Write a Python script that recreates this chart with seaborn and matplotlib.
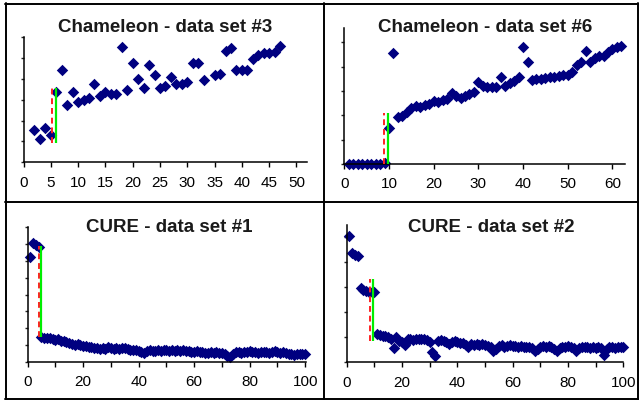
import matplotlib.pyplot as plt
from matplotlib.lines import Line2D
from matplotlib.ticker import MultipleLocator
import seaborn as sns

sns.set_style("ticks")
plt.rcParams['font.family'] = ['Liberation Sans', 'DejaVu Sans']

W, H = 639, 402

# --- data ---
cham3_x = [2, 3, 4, 5, 6, 7, 8, 9, 10, 11, 12, 13, 14, 15, 16, 17, 18, 19, 20, 21, 22,
           23, 24, 25, 26, 27, 28, 29, 30, 31, 32, 33, 35, 36, 37, 38, 39, 40, 41, 42,
           43, 44, 45, 46, 47]
cham3_y = [1.55, 1.12, 1.65, 1.31, 3.37, 4.44, 2.75, 3.38, 2.88, 2.98, 3.08, 3.78, 3.20,
           3.36, 3.30, 3.28, 5.55, 3.46, 4.76, 4.02, 3.55, 4.66, 4.18, 3.55, 3.68, 4.11,
           3.76, 3.76, 3.85, 4.76, 4.76, 3.96, 4.20, 4.25, 5.36, 5.48, 4.44, 4.44, 4.44,
           4.97, 5.13, 5.24, 5.24, 5.29, 5.56]
cham3_red, cham3_green = 5.25, 5.9
cham3_span = (0.95, 3.56)

cham6_x = list(range(1, 63))
cham6_y = [0.02, 0.02, 0.02, 0.02, 0.02, 0.02, 0.02, 0.02, 0.05, 1.48,
           4.55, 1.92, 1.97, 2.15, 2.29, 2.37, 2.33, 2.43, 2.47, 2.58,
           2.57, 2.63, 2.66, 2.92, 2.78, 2.72, 2.81, 2.88, 2.95, 3.39,
           3.19, 3.15, 3.15, 3.17, 3.59, 3.22, 3.33, 3.43, 3.57, 4.83,
           4.21, 3.46, 3.50, 3.50, 3.53, 3.57, 3.59, 3.62, 3.64, 3.66,
           3.80, 4.07, 4.18, 4.66, 4.18, 4.35, 4.43, 4.46, 4.62, 4.73,
           4.80, 4.84]
cham6_red, cham6_green = 8.95, 9.85
cham6_span = (0.0, 2.08)

cure1_x = list(range(1, 101))
cure1_y = [6.20, 7.05, 6.95, 6.80,
           1.47, 1.45, 1.42, 1.40, 1.36, 1.32, 1.34, 1.27, 1.22, 1.18,
           1.13, 1.08, 1.02, 1.05, 0.99, 0.97, 0.92, 0.88, 0.90, 0.84,
           0.81, 0.78, 0.84, 0.80, 0.86, 0.83, 0.78, 0.84, 0.80, 0.85,
           0.81, 0.78, 0.74, 0.70, 0.72, 0.67, 0.60, 0.55, 0.63, 0.70,
           0.67, 0.64, 0.72, 0.68, 0.73, 0.71, 0.66, 0.72, 0.67, 0.70,
           0.67, 0.70, 0.64, 0.68, 0.62, 0.61, 0.64, 0.58, 0.62, 0.56,
           0.53, 0.58, 0.55, 0.60, 0.54, 0.51, 0.45, 0.36, 0.28, 0.47,
           0.57, 0.60, 0.55, 0.62, 0.58, 0.63, 0.57, 0.60, 0.55, 0.61,
           0.57, 0.62, 0.55, 0.60, 0.63, 0.61, 0.56, 0.60, 0.55, 0.50,
           0.47, 0.42, 0.50, 0.45, 0.49, 0.47]
cure1_red, cure1_green = 4.0, 5.0
cure1_span = (1.5, 6.88)

cure2_x = list(range(1, 101))
cure2_y = [5.07, 4.36, 4.30, 4.25, 2.97, 2.88, 2.86, 2.83, 2.82, 2.80,
           1.13, 1.10, 1.07, 1.05, 1.03, 0.93, 0.57, 1.00, 0.85, 0.80,
           0.69, 0.93, 0.93, 0.90, 0.93, 0.95, 0.93, 0.95, 0.90, 0.80,
           0.40, 0.27, 0.87, 0.88, 0.87, 0.80, 0.73, 0.82, 0.87, 0.80,
           0.76, 0.78, 0.70, 0.60, 0.74, 0.70, 0.73, 0.68, 0.72, 0.70,
           0.66, 0.62, 0.47, 0.55, 0.66, 0.68, 0.63, 0.66, 0.70, 0.64,
           0.67, 0.62, 0.65, 0.60, 0.63, 0.61, 0.58, 0.47, 0.55, 0.62,
           0.64, 0.60, 0.66, 0.62, 0.55, 0.47, 0.58, 0.63, 0.60, 0.65,
           0.62, 0.56, 0.47, 0.58, 0.62, 0.60, 0.63, 0.58, 0.61, 0.59,
           0.62, 0.56, 0.30, 0.55, 0.60, 0.62, 0.59, 0.61, 0.63, 0.60]
cure2_red, cure2_green = 8.25, 9.6
cure2_span = (0.87, 3.33)

titles = ["Chameleon - data set #3", "Chameleon - data set #6",
          "CURE - data set #1", "CURE - data set #2"]

# axes boxes in pixels: left, top, right, bottom
panels = [
    dict(box=(23.5, 38.3, 307.4, 163.3), xlim=52, ylim=6, major=5, minor=None, ystep=1,
         x=cham3_x, y=cham3_y, red=cham3_red, green=cham3_green, span=cham3_span,
         title_xy=(165, 28)),
    dict(box=(344.3, 29.3, 625, 165), xlim=62.8, ylim=5.58, major=10, minor=None, ystep=1,
         x=cham6_x, y=cham6_y, red=cham6_red, green=cham6_green, span=cham6_span,
         title_xy=(485, 28)),
    dict(box=(27.6, 228, 306, 363), xlim=100.3, ylim=8, major=20, minor=10, ystep=1,
         x=cure1_x, y=cure1_y, red=cure1_red, green=cure1_green, span=cure1_span,
         title_xy=(169, 228)),
    dict(box=(346.7, 226, 623.3, 363.3), xlim=100, ylim=5.5, major=20, minor=10, ystep=1,
         x=cure2_x, y=cure2_y, red=cure2_red, green=cure2_green, span=cure2_span,
         title_xy=(491, 228)),
]

fig = plt.figure(figsize=(W / 100, H / 100), dpi=100)

for p, title in zip(panels, titles):
    l, t, r, b = p['box']
    ax = fig.add_axes([l / W, 1 - b / H, (r - l) / W, (b - t) / H])
    sns.scatterplot(x=p['x'], y=p['y'], ax=ax, marker='D', color='#000080',
                    s=34, linewidth=0, clip_on=False, zorder=2)
    ax.vlines(p['red'], *p['span'], colors='#ff2020', linestyles=(0, (3, 2)),
              linewidth=1.4, zorder=3)
    ax.vlines(p['green'], *p['span'], colors='#00ee00', linewidth=1.6, zorder=3)
    ax.set_xlim(0, p['xlim'])
    ax.set_ylim(0, p['ylim'])
    ax.xaxis.set_major_locator(MultipleLocator(p['major']))
    if p['minor']:
        ax.xaxis.set_minor_locator(MultipleLocator(p['minor']))
    ax.yaxis.set_major_locator(MultipleLocator(p['ystep']))
    ax.set_yticklabels([])
    ax.tick_params(axis='x', which='both', direction='out', length=3.5, width=1,
                   pad=5.5, labelsize=11, colors='black')
    ax.tick_params(axis='y', direction='out', length=2.5, width=1)
    sns.despine(ax=ax)
    for s in ['left', 'bottom']:
        ax.spines[s].set_linewidth(1.1)
        ax.spines[s].set_color('black')
    ax.set_facecolor('none')
    tx, ty = p['title_xy']
    fig.text(tx / W, 1 - ty / H, title, ha='center', va='center',
             fontsize=13.5, fontweight='bold', color='#1a1a1a')

# panel frames
def hline(y, x0, x1):
    fig.add_artist(Line2D([x0 / W, x1 / W], [1 - y / H, 1 - y / H],
                          color='black', linewidth=1.4))

def vline(x, y0, y1):
    fig.add_artist(Line2D([x / W, x / W], [1 - y0 / H, 1 - y1 / H],
                          color='black', linewidth=1.4))

hline(4.5, 5, 639)
hline(202.5, 5, 639)
hline(399.5, 5, 639)
vline(5.5, 4, 400)
vline(323.5, 4, 400)
vline(638, 4, 400)

fig.savefig('out.png', dpi=100, facecolor='white')
